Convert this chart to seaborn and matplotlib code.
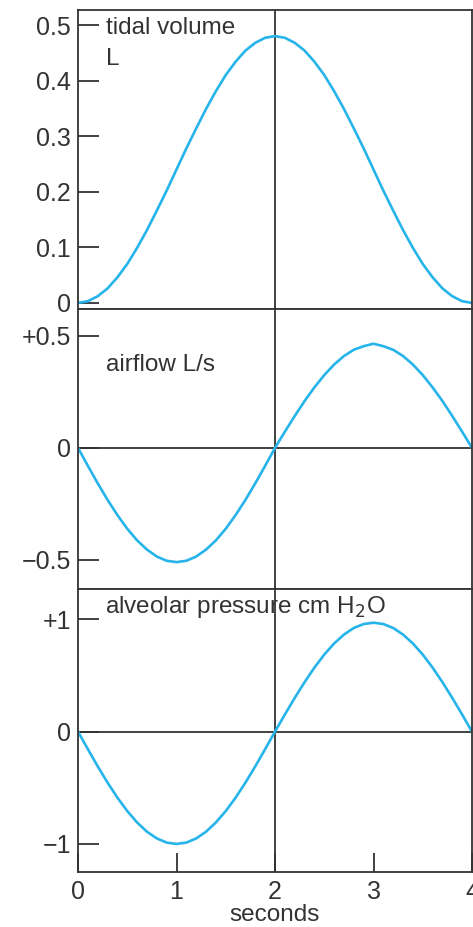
import matplotlib
matplotlib.use("Agg")
import matplotlib.pyplot as plt
import seaborn as sns
import pandas as pd

seconds = [0.0, 0.1, 0.2, 0.3, 0.4, 0.5, 0.6, 0.7, 0.8, 0.9, 1.0,
           1.1, 1.2, 1.3, 1.4, 1.5, 1.6, 1.7, 1.8, 1.9, 2.0,
           2.1, 2.2, 2.3, 2.4, 2.5, 2.6, 2.7, 2.8, 2.9, 3.0,
           3.1, 3.2, 3.3, 3.4, 3.5, 3.6, 3.7, 3.8, 3.9, 4.0]
tidal_volume = [0.000, 0.003, 0.012, 0.026, 0.046, 0.070, 0.099, 0.131, 0.166, 0.202, 0.240,
                0.278, 0.314, 0.349, 0.381, 0.410, 0.434, 0.454, 0.468, 0.477, 0.480,
                0.477, 0.468, 0.454, 0.434, 0.410, 0.381, 0.349, 0.314, 0.278, 0.240,
                0.202, 0.166, 0.131, 0.099, 0.070, 0.046, 0.026, 0.012, 0.003, 0.000]
airflow = [0.000, -0.080, -0.158, -0.232, -0.300, -0.361, -0.413, -0.454, -0.485, -0.504, -0.510,
           -0.504, -0.485, -0.454, -0.413, -0.361, -0.300, -0.232, -0.158, -0.080, 0.000,
           0.072, 0.142, 0.209, 0.270, 0.325, 0.372, 0.410, 0.438, 0.454, 0.465,
           0.454, 0.438, 0.410, 0.372, 0.325, 0.270, 0.209, 0.142, 0.072, 0.000]
pressure = [0.000, -0.156, -0.309, -0.454, -0.588, -0.707, -0.809, -0.891, -0.951, -0.988, -1.000,
            -0.988, -0.951, -0.891, -0.809, -0.707, -0.588, -0.454, -0.309, -0.156, 0.000,
            0.152, 0.300, 0.440, 0.570, 0.686, 0.785, 0.864, 0.923, 0.958, 0.970,
            0.958, 0.923, 0.864, 0.785, 0.686, 0.570, 0.440, 0.300, 0.152, 0.000]

vol_ticks = [0, 0.1, 0.2, 0.3, 0.4, 0.5]
vol_labels = ["0", "0.1", "0.2", "0.3", "0.4", "0.5"]
flow_ticks = [-0.5, 0, 0.5]
flow_labels = ["\u22120.5", "0", "+0.5"]
pres_ticks = [-1, 0, 1]
pres_labels = ["\u22121", "0", "+1"]
x_ticks = [0, 1, 2, 3, 4]
x_labels = ["0", "1", "2", "3", "4"]

sns.set_style("white")
plt.rcParams["font.family"] = ["Liberation Sans", "DejaVu Sans"]

df = pd.DataFrame({"seconds": seconds, "volume": tidal_volume,
                   "airflow": airflow, "pressure": pressure})

W, H = 473, 927
fig = plt.figure(figsize=(W / 100, H / 100), dpi=100)

def rect(top, bottom):
    return [78 / W, 1 - bottom / H, (472 - 78) / W, (bottom - top) / H]

ax1 = fig.add_axes(rect(10, 309))
ax2 = fig.add_axes(rect(309, 589))
ax3 = fig.add_axes(rect(589, 872))

blue = "#26B4EA"
dark = "#333333"
tick_fs = 18
text_fs = 17.5

for ax, col in [(ax1, "volume"), (ax2, "airflow"), (ax3, "pressure")]:
    sns.lineplot(data=df, x="seconds", y=col, ax=ax, color=blue, linewidth=1.9)
    ax.set_xlim(0, 4)
    ax.set_xlabel("")
    ax.set_ylabel("")
    ax.axvline(2, color=dark, linewidth=1.3, zorder=1)
    for s in ax.spines.values():
        s.set_color(dark)
        s.set_linewidth(1.3)
    ax.tick_params(axis="y", left=True, right=False, direction="in", length=15, width=1.3,
                   color=dark, labelsize=tick_fs, labelcolor=dark, pad=5)

ax1.set_ylim(-0.011, 0.527)
ax1.set_yticks(vol_ticks)
ax1.set_yticklabels(vol_labels)

ax2.set_ylim(-0.63, 0.62)
ax2.set_yticks(flow_ticks)
ax2.set_yticklabels(flow_labels)
ax2.axhline(0, color=dark, linewidth=1.3, zorder=1)

ax3.set_ylim(-1.25, 1.27)
ax3.set_yticks(pres_ticks)
ax3.set_yticklabels(pres_labels)
ax3.axhline(0, color=dark, linewidth=1.3, zorder=1)

for ax in (ax1, ax2):
    ax.set_xticks([])

ax3.set_xticks(x_ticks)
ax3.set_xticklabels(x_labels)
ax3.tick_params(axis="x", bottom=True, top=False, direction="in", length=14, width=1.3,
                color=dark, labelsize=tick_fs, labelcolor=dark, pad=6)
ax3.set_xlabel("seconds", fontsize=text_fs, color=dark, labelpad=0)

ax1.text(0.072, 0.975, "tidal volume\nL", transform=ax1.transAxes, ha="left", va="top",
         fontsize=text_fs, color=dark, linespacing=1.5)
ax2.text(0.072, 0.8, "airflow L/s", transform=ax2.transAxes, ha="left", va="center",
         fontsize=text_fs, color=dark)
ax3.text(0.068, 0.936, "alveolar pressure cm H$_2$O", transform=ax3.transAxes, ha="left",
         va="center", fontsize=text_fs, color=dark)

fig.savefig("out.png", dpi=100)
